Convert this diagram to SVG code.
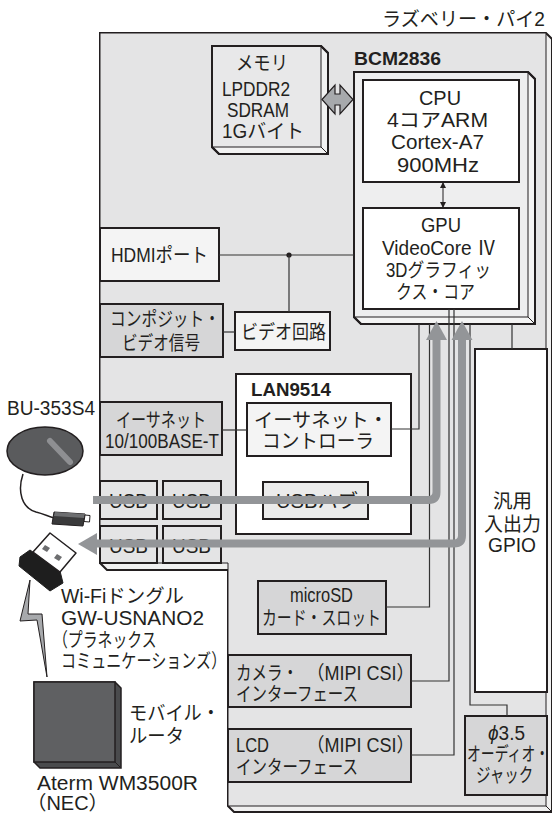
<svg xmlns="http://www.w3.org/2000/svg" width="552" height="814" viewBox="0 0 552 814">
  <style>
    .t { font-family: "Liberation Sans", "Noto Sans CJK JP", sans-serif; font-size: 19.5px; fill: #231f20; }
    .b { font-family: "Liberation Sans", "Noto Sans CJK JP", sans-serif; font-size: 18px; font-weight: bold; fill: #231f20; }
    .sil { stroke: #231f20; stroke-width: 2; stroke-linejoin: miter; }
    .inner { fill: none; stroke: #231f20; stroke-width: 1; }
    .box { stroke: #231f20; stroke-width: 2; }
    .white { fill: #ffffff; }
    .pale { fill: #f4f4f4; }
    .mid { fill: #d6d6d7; }
    .light { fill: #e4e4e5; }
    .conn { fill: none; stroke: #333333; stroke-width: 1.2; }
    .band { fill: none; stroke: #939598; stroke-width: 8; }
    .head { fill: #939598; }
  </style>
  <defs>
    <marker id="tip" viewBox="0 0 6 6" refX="5" refY="3" markerWidth="6" markerHeight="6" orient="auto-start-reverse" markerUnits="userSpaceOnUse">
      <path d="M0,0 L6,3 L0,6 Z" fill="#231f20"/>
    </marker>
  </defs>

  <!-- main board with extruded edge -->
  <g id="board">
    <path class="sil" fill="#f0f0f0" d="M100,33 H546 L552,39 V812 H234 L228,806 V570 H107 L100,563 Z"/>
    <path fill="#e4e4e5" stroke="#231f20" stroke-width="1" d="M100,33 H546 V806 H228 V563 H100 Z"/>
    <path class="inner" d="M546,806 L552,812 M228,806 L234,812 M546,33 L552,39"/>
    <text class="t" x="382" y="26" textLength="163" lengthAdjust="spacingAndGlyphs">ラズベリー・パイ2</text>
  </g>

  <!-- memory chip -->
  <g id="memory">
    <path class="sil" fill="#f2f2f2" d="M212,46 H321 L328,53 V154 H219 L212,147 Z"/>
    <rect x="212" y="46" width="109" height="101" fill="#e8e8e9"/>
    <path class="inner" d="M321,46 V147 H212 M321,147 L328,154"/>
    <path class="sil" fill="none" d="M212,46 H321 L328,53 V154 H219 L212,147 Z"/>
    <text class="t" x="236" y="70" textLength="52" lengthAdjust="spacingAndGlyphs">メモリ</text>
    <text class="t" x="222" y="96" textLength="68" lengthAdjust="spacingAndGlyphs">LPDDR2</text>
    <text class="t" x="227" y="117" textLength="62" lengthAdjust="spacingAndGlyphs">SDRAM</text>
    <text class="t" x="222" y="138" textLength="82" lengthAdjust="spacingAndGlyphs">1Gバイト</text>
  </g>

  <!-- SoC package -->
  <g id="bcm2836">
    <path class="sil" fill="#f4f4f4" d="M354,72 H528 L535,79 V324 H361 L354,317 Z"/>
    <rect x="354" y="72" width="174" height="245" fill="#eeeeef"/>
    <path class="inner" d="M528,72 V317 H354 M528,317 L535,324"/>
    <path class="sil" fill="none" d="M354,72 H528 L535,79 V324 H361 L354,317 Z"/>
    <text class="b" x="354" y="65" textLength="87" lengthAdjust="spacingAndGlyphs">BCM2836</text>
  </g>

  <g id="cpu">
    <rect class="box white" x="363" y="80" width="156" height="102"/>
    <text class="t" x="419" y="105" textLength="42" lengthAdjust="spacingAndGlyphs">CPU</text>
    <text class="t" x="387" y="127" textLength="101" lengthAdjust="spacingAndGlyphs">4コアARM</text>
    <text class="t" x="391" y="149" textLength="93" lengthAdjust="spacingAndGlyphs">Cortex-A7</text>
    <text class="t" x="397" y="172" textLength="82" lengthAdjust="spacingAndGlyphs">900MHz</text>
  </g>

  <g id="gpu">
    <rect class="box white" x="363" y="208" width="156" height="101"/>
    <text class="t" x="421" y="232" textLength="40" lengthAdjust="spacingAndGlyphs">GPU</text>
    <text class="t" x="382" y="255" textLength="114" lengthAdjust="spacingAndGlyphs">VideoCore Ⅳ</text>
    <text class="t" x="386" y="277" textLength="105" lengthAdjust="spacingAndGlyphs">3Dグラフィッ</text>
    <text class="t" x="396" y="299" textLength="79" lengthAdjust="spacingAndGlyphs">クス・コア</text>
  </g>

  <g id="hdmi-port">
    <rect class="box pale" x="100" y="228" width="119" height="53"/>
    <text class="t" x="111" y="262" textLength="97" lengthAdjust="spacingAndGlyphs">HDMIポート</text>
  </g>

  <g id="composite-video">
    <rect class="box mid" x="100" y="304" width="123" height="53"/>
    <text class="t" x="110" y="326" textLength="110" lengthAdjust="spacingAndGlyphs">コンポジット・</text>
    <text class="t" x="122" y="350" textLength="78" lengthAdjust="spacingAndGlyphs">ビデオ信号</text>
  </g>

  <g id="video-circuit">
    <rect class="box pale" x="235" y="312" width="95" height="38"/>
    <text class="t" x="241" y="339" textLength="85" lengthAdjust="spacingAndGlyphs">ビデオ回路</text>
  </g>

  <g id="lan9514">
    <rect class="box white" x="236" y="374" width="175" height="160"/>
    <text class="b" x="251" y="396" textLength="80" lengthAdjust="spacingAndGlyphs">LAN9514</text>
  </g>

  <g id="ethernet-controller">
    <rect class="box pale" x="247" y="403" width="144" height="53"/>
    <text class="t" x="254" y="427" textLength="134" lengthAdjust="spacingAndGlyphs">イーサネット・</text>
    <text class="t" x="262" y="448" textLength="112" lengthAdjust="spacingAndGlyphs">コントローラ</text>
  </g>

  <g id="usb-hub">
    <rect class="box" fill="#ebebeb" x="263" y="482" width="105" height="37"/>
    <text class="t" x="276" y="508" textLength="82" lengthAdjust="spacingAndGlyphs">USBハブ</text>
  </g>

  <g id="ethernet-port">
    <rect class="box mid" x="100" y="402" width="122" height="53"/>
    <text class="t" x="116" y="427" textLength="90" lengthAdjust="spacingAndGlyphs">イーサネット</text>
    <text class="t" x="105" y="448" textLength="114" lengthAdjust="spacingAndGlyphs">10/100BASE-T</text>
  </g>

  <g id="usb-1">
    <rect class="box light" x="100" y="481" width="57" height="38"/>
    <text class="t" x="109" y="508" textLength="39" lengthAdjust="spacingAndGlyphs">USB</text>
  </g>
  <g id="usb-2">
    <rect class="box light" x="163" y="481" width="58" height="38"/>
    <text class="t" x="172" y="508" textLength="39" lengthAdjust="spacingAndGlyphs">USB</text>
  </g>
  <g id="usb-3">
    <rect class="box light" x="100" y="526" width="57" height="37"/>
    <text class="t" x="109" y="553" textLength="39" lengthAdjust="spacingAndGlyphs">USB</text>
  </g>
  <g id="usb-4">
    <rect class="box light" x="163" y="526" width="58" height="37"/>
    <text class="t" x="172" y="553" textLength="39" lengthAdjust="spacingAndGlyphs">USB</text>
  </g>

  <g id="gpio">
    <rect class="box white" x="475" y="349" width="72" height="343"/>
    <text class="t" x="493" y="508" textLength="39" lengthAdjust="spacingAndGlyphs">汎用</text>
    <text class="t" x="484" y="531" textLength="57" lengthAdjust="spacingAndGlyphs">入出力</text>
    <text class="t" x="488" y="552" textLength="48" lengthAdjust="spacingAndGlyphs">GPIO</text>
  </g>

  <g id="microsd">
    <rect class="box mid" x="258" y="581" width="128" height="53"/>
    <text class="t" x="290" y="602" textLength="63" lengthAdjust="spacingAndGlyphs">microSD</text>
    <text class="t" x="262" y="625" textLength="119" lengthAdjust="spacingAndGlyphs">カード・スロット</text>
  </g>

  <g id="camera-if">
    <rect class="box mid" x="228" y="655" width="183" height="52"/>
    <text class="t" x="236" y="680" textLength="62" lengthAdjust="spacingAndGlyphs">カメラ・</text>
    <text class="t" x="306.5" y="680" textLength="108" lengthAdjust="spacingAndGlyphs">（MIPI CSI）</text>
    <text class="t" x="236" y="701" textLength="122" lengthAdjust="spacingAndGlyphs">インターフェース</text>
  </g>

  <g id="lcd-if">
    <rect class="box mid" x="228" y="729" width="183" height="53"/>
    <text class="t" x="236" y="752" textLength="33" lengthAdjust="spacingAndGlyphs">LCD</text>
    <text class="t" x="306.5" y="752" textLength="108" lengthAdjust="spacingAndGlyphs">（MIPI CSI）</text>
    <text class="t" x="236" y="774" textLength="122" lengthAdjust="spacingAndGlyphs">インターフェース</text>
  </g>

  <g id="audio-jack">
    <rect class="box mid" x="465" y="716" width="82" height="79"/>
    <text class="t" x="488" y="740" textLength="37" lengthAdjust="spacingAndGlyphs"><tspan font-style="italic">ϕ</tspan>3.5</text>
    <text class="t" transform="translate(467,761) scale(0.71,1)">オーディオ・</text>
    <text class="t" transform="translate(476,782) scale(0.744,1)">ジャック</text>
  </g>

  <!-- GPS receiver with cable and USB plug -->
  <g id="gps-receiver">
    <text class="t" x="7" y="415" textLength="88" lengthAdjust="spacingAndGlyphs">BU-353S4</text>
    <path d="M23,474 C17,492 22,508 36,512 C44,514 50,517 55,518" fill="none" stroke="#231f20" stroke-width="1.5"/>
    <ellipse cx="45" cy="451" rx="38" ry="24" fill="#5a5b5d" stroke="#231f20" stroke-width="1.5"/>
    <path d="M50,441 L70,462" stroke="#8e8f92" stroke-width="6" stroke-linecap="round"/>
    <path d="M54,512 L85,514 L83,526 L52,524 Z" fill="#3a3a3b" stroke="#231f20" stroke-width="1"/>
    <path d="M55,512 L85,514 L84,518 L54,516 Z" fill="#6d6e70"/>
    <path d="M85,515 L90,515.5 L89.5,522 L84,521.5 Z" fill="#ffffff" stroke="#231f20" stroke-width="1"/>
  </g>

  <!-- Wi-Fi dongle -->
  <g id="wifi-dongle">
    <path d="M30,550 L60,571 L63,583 L50,591 L19,566 L20,557 Z" fill="#1e1e1e" stroke="#1e1e1e" stroke-width="1"/>
    <path d="M50,533 L76,553 L60,572 L33,552 Z" fill="#ffffff" stroke="#231f20" stroke-width="1.5" stroke-linejoin="round"/>
    <path d="M45,545 L50,548 L47,552 L42,549 Z" fill="#6d6e70"/>
    <path d="M57,554 L62,557 L59,561 L54,558 Z" fill="#6d6e70"/>
    <text class="t" x="61" y="603" textLength="123" lengthAdjust="spacingAndGlyphs">Wi-Fiドングル</text>
    <text class="t" x="61" y="625" textLength="143" lengthAdjust="spacingAndGlyphs">GW-USNANO2</text>
    <text class="t" transform="translate(53,647) scale(0.762,1)">（プラネックス</text>
    <text class="t" transform="translate(61,668) scale(0.774,1)">コミュニケーションズ）</text>
  </g>

  <!-- radio link -->
  <g id="radio-link">
    <path d="M30,580 L20,621 L37,620 L47,677 L42,614 L28,614 Z" fill="#a7a9ac" stroke="#231f20" stroke-width="1"/>
  </g>

  <!-- mobile router -->
  <g id="mobile-router">
    <path d="M34,682 H115 L121,688 V768 H40 L34,762 Z" fill="#4a4b4d" stroke="#231f20" stroke-width="1.5"/>
    <rect x="34" y="682" width="81" height="80" fill="#5f6062" stroke="#231f20" stroke-width="1.5"/>
    <path class="inner" d="M115,762 L121,768"/>
    <text class="t" x="129" y="720" textLength="91" lengthAdjust="spacingAndGlyphs">モバイル・</text>
    <text class="t" x="129" y="743" textLength="55" lengthAdjust="spacingAndGlyphs">ルータ</text>
    <text class="t" x="37" y="790" textLength="161" lengthAdjust="spacingAndGlyphs">Aterm WM3500R</text>
    <text class="t" x="26.5" y="810" textLength="82" lengthAdjust="spacingAndGlyphs">（NEC）</text>
  </g>

  <!-- signal lines -->
  <g id="connectors">
    <path class="conn" d="M219,255 H354"/>
    <circle cx="289" cy="255" r="2.6" fill="#231f20"/>
    <path class="conn" d="M289,255 V312"/>
    <path class="conn" d="M223,332 H235"/>
    <path class="conn" d="M222,430 H247"/>
    <path class="conn" d="M391,429 H419 V324"/>
    <path class="conn" d="M386,607 H429.5 V324"/>
    <path class="conn" d="M411,681 H449 V309"/>
    <path class="conn" d="M411,755 H454 V309"/>
    <path class="conn" d="M470,324 V705 H507 V716"/>
    <path class="conn" d="M512,324 V349"/>
    <path d="M443,183 V207" fill="none" stroke="#231f20" stroke-width="1" marker-start="url(#tip)" marker-end="url(#tip)"/>
    <!-- memory bus -->
    <path d="M322,99.5 L335,85 V94 H340 V85 L353,99.5 L340,114 V105 H335 V114 Z" fill="#a7a9ac" stroke="#231f20" stroke-width="1.2" stroke-linejoin="miter"/>
    <!-- USB data paths -->
    <path class="band" d="M93,500 H428.5 Q436.5,500 436.5,492 V339"/>
    <polygon class="head" points="426,340 447,340 436.5,321"/>
    <path class="band" d="M96,543.5 H454 Q462,543.5 462,535.5 V339"/>
    <polygon class="head" points="451.5,340 472.5,340 462,321"/>
    <polygon class="head" points="97,533 97,555 78,544"/>
  </g>
</svg>
